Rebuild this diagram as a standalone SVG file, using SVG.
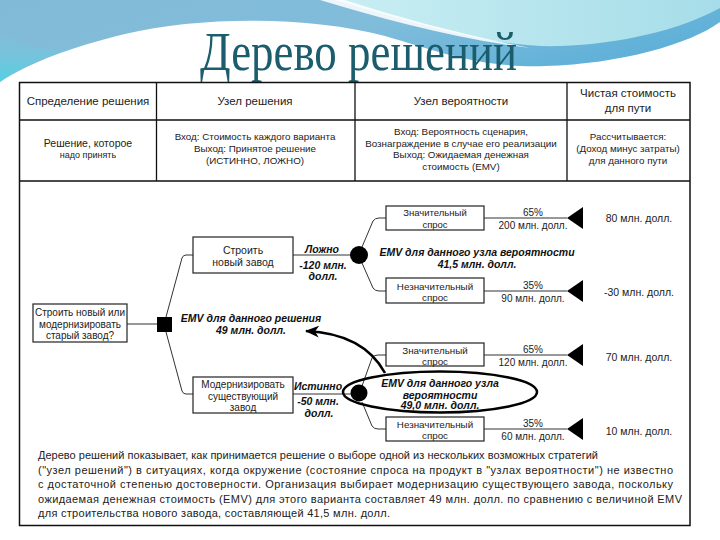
<svg xmlns="http://www.w3.org/2000/svg" width="720" height="540" viewBox="0 0 720 540">
<defs>
  <linearGradient id="gBlue" x1="0" y1="0" x2="1" y2="0.4">
    <stop offset="0" stop-color="#82bad6"/>
    <stop offset="0.55" stop-color="#80bddb"/>
    <stop offset="1" stop-color="#5fb0d8"/>
  </linearGradient>
  <linearGradient id="gCyan" x1="0" y1="0" x2="0" y2="1">
    <stop offset="0" stop-color="#7fc6dc" stop-opacity="0"/>
    <stop offset="1" stop-color="#4fd2e2"/>
  </linearGradient>
  <linearGradient id="gLight" x1="0" y1="0" x2="1" y2="0">
    <stop offset="0" stop-color="#c9eef3"/>
    <stop offset="1" stop-color="#a6dde9"/>
  </linearGradient>
  <marker id="ah" markerWidth="14" markerHeight="12" refX="13" refY="6" orient="auto" markerUnits="userSpaceOnUse">
    <path d="M0,0 L14,6 L0,12 L4,6 Z" fill="#000"/>
  </marker>
</defs>
<style>
  .t{font-family:"Liberation Sans","DejaVu Sans",sans-serif;fill:#222;text-anchor:middle}
  .h{font-size:11.5px}
  .s{font-size:9.8px}
  .b{font-size:10.5px}
  .bi{font-family:"Liberation Sans","DejaVu Sans",sans-serif;fill:#111;text-anchor:middle;font-weight:bold;font-style:italic;font-size:10.5px}
  .box{fill:#fff;stroke:#222;stroke-width:1.2}
  .ln{fill:none;stroke:#333;stroke-width:1}
  .grid{fill:none;stroke:#111;stroke-width:1.3}
  .p{font-family:"Liberation Sans","DejaVu Sans",sans-serif;fill:#222;font-size:11px}
  .tri{fill:#000}
  .dot{fill:#000}
</style>

<!-- background -->
<rect width="720" height="540" fill="#fff"/>
<path d="M0 0 H720 V22 C690 44,620 64,545 66 C480 68,440 52,385 36 C310 16,200 16,125 34 C75 46,30 62,0 82 Z" fill="url(#gBlue)"/>
<path d="M0 30 C20 45,45 52,70 50 C40 58,15 70,0 82 Z" fill="url(#gCyan)"/>
<path d="M335 0 H720 V8 C680 30,620 44,560 46 C500 48,430 28,335 0 Z" fill="url(#gLight)"/>
<path d="M320 0 C380 18,450 38,530 48 C460 34,400 18,345 0 Z" fill="#ffffff" opacity="0.85"/>

<text x="200" y="70" font-family="Liberation Serif, DejaVu Serif, serif" font-size="55" fill="#1b5d6d" textLength="317" lengthAdjust="spacingAndGlyphs">Дерево решений</text>

<!-- frame and table -->
<rect x="19.5" y="82.5" width="670.5" height="443" fill="#fff" stroke="#111" stroke-width="1.5"/>
<g id="table">
  <path class="grid" d="M19.5 120 H690 M19.5 181 H690 M156.5 82.5 V181 M355 82.5 V181 M567 82.5 V181"/>
  <text class="t h" x="88" y="105">Спределение решения</text>
  <text class="t h" x="255" y="105">Узел решения</text>
  <text class="t h" x="461" y="105">Узел вероятности</text>
  <text class="t h" x="628" y="97">Чистая стоимость</text>
  <text class="t h" x="628" y="112">для пути</text>

  <text class="t" font-size="10.5" x="88" y="147">Решение, которое</text>
  <text class="t" font-size="9" x="88" y="158">надо принять</text>

  <text class="t s" x="255" y="140">Вход: Стоимость каждого варианта</text>
  <text class="t s" x="255" y="152">Выход: Принятое решение</text>
  <text class="t s" x="255" y="164">(ИСТИННО, ЛОЖНО)</text>

  <text class="t s" x="461" y="135">Вход: Вероятность сценария,</text>
  <text class="t s" x="461" y="147">Вознаграждение в случае его реализации</text>
  <text class="t s" x="461" y="158">Выход: Ожидаемая денежная</text>
  <text class="t s" x="461" y="170">стоимость (EMV)</text>

  <text class="t s" x="628" y="140">Рассчитывается:</text>
  <text class="t s" x="628" y="152">(Доход минус затраты)</text>
  <text class="t s" x="628" y="164">для данного пути</text>
</g>

<!-- connectors -->
<g id="connectors">
  <path class="ln" d="M127 324 H157"/>
  <path class="ln" d="M166 317 L182 258 Q183 255 186 255 H193"/>
  <path class="ln" d="M166 332 L182 391 Q183 394 186 394 H193"/>
  <path class="ln" d="M293 255 H351"/>
  <path class="ln" d="M293 394 H351"/>
  <path class="ln" d="M362 247 L373 221 Q375 218 379 218 H386"/>
  <path class="ln" d="M362 263 L373 288 Q375 291 379 291 H386"/>
  <path class="ln" d="M362 386 L372 358 Q374 355 378 355 H386"/>
  <path class="ln" d="M362 402 L372 426 Q374 429 378 429 H386"/>
  <path class="ln" d="M484 218 H567 M484 291 H567 M484 355 H567 M484 429 H567"/>
  <path d="M385 373 C373 351,350 333,306 331" fill="none" stroke="#000" stroke-width="2.6" marker-end="url(#ah)"/>
</g>

<!-- decision question -->
<g id="question">
  <rect class="box" x="33" y="304" width="94" height="38"/>
  <text class="t" font-size="10" x="80" y="316">Строить новый или</text>
  <text class="t" font-size="10" x="80" y="327.5">модернизировать</text>
  <text class="t" font-size="10" x="80" y="339">старый завод?</text>
</g>
<g id="decision-node"><rect x="157" y="317" width="15" height="15" fill="#000"/></g>

<g id="emv-decision">
  <text class="bi" x="251" y="322">EMV для данного решения</text>
  <text class="bi" x="251" y="334">49 млн. долл.</text>
</g>

<g id="build-new">
  <rect class="box" x="193" y="237" width="100" height="36"/>
  <text class="t b" x="243" y="254">Строить</text>
  <text class="t b" x="243" y="266">новый завод</text>
</g>
<g id="label-false">
  <text class="bi" x="322" y="253">Ложно</text>
  <text class="bi" x="323" y="269">-120 млн.</text>
  <text class="bi" x="323" y="280">долл.</text>
</g>

<g id="modernize">
  <rect class="box" x="193" y="377" width="100" height="36"/>
  <text class="t" font-size="10" x="243" y="388">Модернизировать</text>
  <text class="t" font-size="10" x="243" y="399.5">существующий</text>
  <text class="t" font-size="10" x="243" y="411">завод</text>
</g>
<g id="label-true">
  <text class="bi" x="318" y="390">Истинно</text>
  <text class="bi" x="318" y="405">-50 млн.</text>
  <text class="bi" x="319" y="417">долл.</text>
</g>

<g id="chance-1"><circle class="dot" cx="359" cy="255" r="9"/></g>
<g id="emv-chance-1">
  <text class="bi" x="477" y="256">EMV для данного узла вероятности</text>
  <text class="bi" x="477" y="268">41,5 млн. долл.</text>
</g>

<g id="chance-2"><circle class="dot" cx="359" cy="393" r="8.5"/></g>
<g id="emv-chance-2">
  <ellipse cx="440" cy="392" rx="97" ry="20.5" fill="none" stroke="#000" stroke-width="2.5"/>
  <text class="bi" x="440" y="387">EMV для данного узла</text>
  <text class="bi" font-size="9.5" x="440" y="398.5">вероятности</text>
  <text class="bi" x="440" y="409">49,0 млн. долл.</text>
</g>

<g id="outcome-1">
  <rect class="box" x="386" y="206" width="98" height="24"/>
  <text class="t" font-size="9.5" x="435" y="216">Значительный</text>
  <text class="t" font-size="9.5" x="435" y="227.5">спрос</text>
  <text class="t" font-size="10" x="533" y="215.5">65%</text>
  <text class="t" font-size="10" x="533" y="228.5">200 млн. долл.</text>
  <polygon class="tri" points="567,218 583,207 583,229"/>
  <text class="t" font-size="10.5" x="639" y="222">80 млн. долл.</text>
</g>

<g id="outcome-2">
  <rect class="box" x="386" y="278" width="98" height="25"/>
  <text class="t" font-size="9.8" x="435" y="289.5">Незначительный</text>
  <text class="t" font-size="9.8" x="435" y="301">спрос</text>
  <text class="t" font-size="10" x="533" y="288.5">35%</text>
  <text class="t" font-size="10" x="533" y="301.5">90 млн. долл.</text>
  <polygon class="tri" points="567,291 583,280 583,302"/>
  <text class="t" font-size="10.5" x="639" y="296">-30 млн. долл.</text>
</g>

<g id="outcome-3">
  <rect class="box" x="386" y="343" width="98" height="23"/>
  <text class="t" font-size="9.8" x="435" y="354">Значительный</text>
  <text class="t" font-size="9.8" x="435" y="365">спрос</text>
  <text class="t" font-size="10" x="533" y="353">65%</text>
  <text class="t" font-size="10" x="533" y="366">120 млн. долл.</text>
  <polygon class="tri" points="567,355 583,344 583,366"/>
  <text class="t" font-size="10.5" x="639" y="361">70 млн. долл.</text>
</g>

<g id="outcome-4">
  <rect class="box" x="386" y="417" width="98" height="24"/>
  <text class="t" font-size="9.8" x="435" y="427.5">Незначительный</text>
  <text class="t" font-size="9.8" x="435" y="439">спрос</text>
  <text class="t" font-size="10" x="533" y="426.5">35%</text>
  <text class="t" font-size="10" x="533" y="440">60 млн. долл.</text>
  <polygon class="tri" points="567,429 583,418 583,440"/>
  <text class="t" font-size="10.5" x="639" y="435">10 млн. долл.</text>
</g>

<g id="caption">
  <text class="p" x="38" y="459" textLength="560">Дерево решений показывает, как принимается решение о выборе одной из нескольких возможных стратегий</text>
  <text class="p" x="38" y="473.5" textLength="635">("узел решений") в ситуациях, когда окружение (состояние спроса на продукт в "узлах вероятности") не известно</text>
  <text class="p" x="38" y="488" textLength="635">с достаточной степенью достоверности. Организация выбирает модернизацию существующего завода, поскольку</text>
  <text class="p" x="38" y="502.5" textLength="644">ожидаемая денежная стоимость (EMV) для этого варианта составляет 49 млн. долл. по сравнению с величиной EMV</text>
  <text class="p" x="38" y="517" textLength="352">для строительства нового завода, составляющей 41,5 млн. долл.</text>
</g>
</svg>
